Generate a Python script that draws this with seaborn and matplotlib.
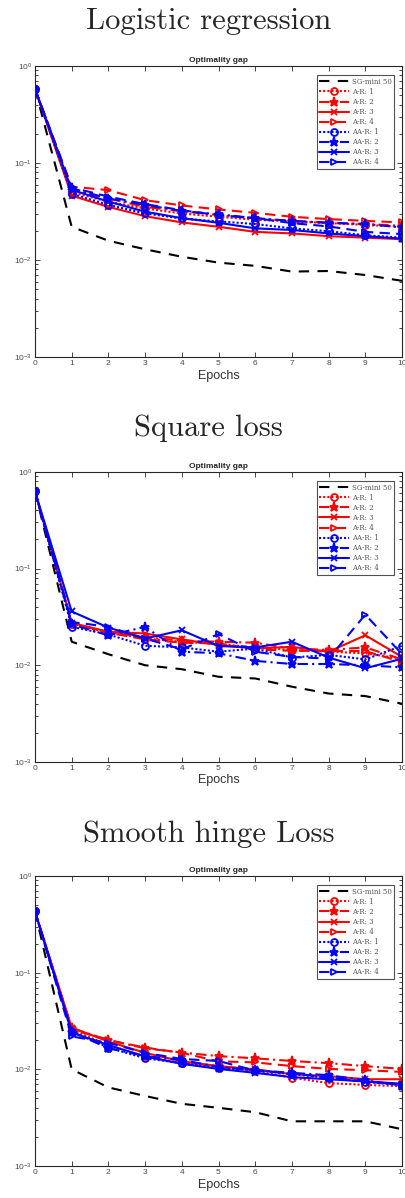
import numpy as np
import pandas as pd
import matplotlib
matplotlib.use("Agg")
import matplotlib.pyplot as plt
import seaborn as sns

epochs = list(range(11))

# ---- Logistic regression ----
log_sg   = [0.58, 0.022, 0.0158, 0.0129, 0.0108, 0.0094, 0.0087, 0.0076, 0.0077, 0.0070, 0.0061]
log_ar1  = [0.58, 0.050, 0.0398, 0.034, 0.0302, 0.0279, 0.026, 0.025, 0.024, 0.023, 0.022]
log_ar2  = [0.58, 0.053, 0.043, 0.0353, 0.0319, 0.029, 0.0268, 0.0253, 0.0242, 0.0235, 0.0225]
log_ar3  = [0.58, 0.046, 0.0353, 0.0283, 0.0244, 0.022, 0.0195, 0.0188, 0.0176, 0.017, 0.0164]
log_ar4  = [0.58, 0.057, 0.0525, 0.0414, 0.0365, 0.0332, 0.0306, 0.0279, 0.0264, 0.0253, 0.0244]
log_aar1 = [0.58, 0.048, 0.037, 0.0302, 0.0268, 0.025, 0.0235, 0.0212, 0.0198, 0.018, 0.017]
log_aar2 = [0.58, 0.055, 0.043, 0.037, 0.032, 0.0296, 0.027, 0.0253, 0.0242, 0.0235, 0.0217]
log_aar3 = [0.58, 0.053, 0.040, 0.0315, 0.027, 0.0242, 0.0212, 0.0204, 0.0188, 0.0176, 0.0166]
log_aar4 = [0.58, 0.056, 0.045, 0.0377, 0.0326, 0.029, 0.027, 0.024, 0.0222, 0.0195, 0.0185]

# ---- Square loss ----
sq_sg   = [0.63, 0.0175, 0.013, 0.010, 0.0091, 0.0076, 0.0073, 0.0060, 0.0051, 0.0048, 0.0040]
sq_ar1  = [0.63, 0.027, 0.0217, 0.0189, 0.0175, 0.0166, 0.0153, 0.0144, 0.0138, 0.0133, 0.0117]
sq_ar2  = [0.63, 0.027, 0.022, 0.0195, 0.018, 0.0175, 0.0171, 0.0149, 0.0144, 0.0153, 0.0115]
sq_ar3  = [0.63, 0.0274, 0.0222, 0.0213, 0.0185, 0.0162, 0.0149, 0.0155, 0.0138, 0.0204, 0.0122]
sq_ar4  = [0.63, 0.0274, 0.0217, 0.0185, 0.0171, 0.0168, 0.0146, 0.0141, 0.0141, 0.014, 0.0108]
sq_aar1 = [0.63, 0.025, 0.0208, 0.0159, 0.0153, 0.0138, 0.0149, 0.012, 0.0128, 0.0115, 0.0159]
sq_aar2 = [0.63, 0.0264, 0.0204, 0.0249, 0.0138, 0.0133, 0.0111, 0.0103, 0.0103, 0.010, 0.0095]
sq_aar3 = [0.63, 0.036, 0.0245, 0.0189, 0.023, 0.0158, 0.0153, 0.0175, 0.012, 0.0093, 0.0117]
sq_aar4 = [0.63, 0.028, 0.025, 0.0189, 0.0146, 0.021, 0.0138, 0.0122, 0.0117, 0.0334, 0.013]

# ---- Smooth hinge loss ----
sh_sg   = [0.43, 0.010, 0.0065, 0.0053, 0.0044, 0.0040, 0.0036, 0.0029, 0.0029, 0.0029, 0.0024]
sh_ar1  = [0.43, 0.0256, 0.0178, 0.0136, 0.0116, 0.0108, 0.0096, 0.0082, 0.0072, 0.0069, 0.0067]
sh_ar2  = [0.43, 0.0266, 0.0201, 0.0165, 0.0149, 0.0137, 0.013, 0.0122, 0.0116, 0.0108, 0.0101]
sh_ar3  = [0.43, 0.027, 0.0194, 0.0148, 0.0121, 0.0108, 0.010, 0.0089, 0.0085, 0.0079, 0.0079]
sh_ar4  = [0.43, 0.026, 0.020, 0.0168, 0.0148, 0.0121, 0.0118, 0.0108, 0.0101, 0.0098, 0.0094]
sh_aar1 = [0.43, 0.0245, 0.0168, 0.013, 0.0116, 0.0103, 0.0098, 0.0089, 0.0082, 0.0074, 0.0069]
sh_aar2 = [0.43, 0.0245, 0.0165, 0.0137, 0.0125, 0.0106, 0.0098, 0.0092, 0.0087, 0.0077, 0.0068]
sh_aar3 = [0.43, 0.024, 0.0178, 0.0136, 0.0114, 0.0101, 0.0092, 0.0083, 0.0079, 0.0075, 0.0071]
sh_aar4 = [0.43, 0.0219, 0.0188, 0.0148, 0.0128, 0.0122, 0.0097, 0.0091, 0.0082, 0.0075, 0.0069]

panel_titles = ["Logistic regression", "Square loss", "Smooth hinge Loss"]
series_labels = ["SG-mini 50", "A-R: 1", "A-R: 2", "A-R: 3", "A-R: 4",
                 "AA-R: 1", "AA-R: 2", "AA-R: 3", "AA-R: 4"]
panels = [
    [log_sg, log_ar1, log_ar2, log_ar3, log_ar4, log_aar1, log_aar2, log_aar3, log_aar4],
    [sq_sg, sq_ar1, sq_ar2, sq_ar3, sq_ar4, sq_aar1, sq_aar2, sq_aar3, sq_aar4],
    [sh_sg, sh_ar1, sh_ar2, sh_ar3, sh_ar4, sh_aar1, sh_aar2, sh_aar3, sh_aar4],
]

styles = [
    dict(color="black", ls=(0, (5, 4)), marker=None, mfc=None),
    dict(color="#ff0000", ls=(0, (1, 1)), marker="o", mfc="none"),
    dict(color="#ff0000", ls=(0, (5, 2, 1, 2)), marker="*", mfc="#ff0000"),
    dict(color="#ff0000", ls="-", marker="x", mfc="#ff0000"),
    dict(color="#ff0000", ls=(0, (5, 3)), marker=">", mfc="none"),
    dict(color="#0000ff", ls=(0, (1, 1)), marker="o", mfc="none"),
    dict(color="#0000ff", ls=(0, (5, 2, 1, 2)), marker="*", mfc="#0000ff"),
    dict(color="#0000ff", ls="-", marker="x", mfc="#0000ff"),
    dict(color="#0000ff", ls=(0, (5, 3)), marker=">", mfc="none"),
]

sns.set_theme(style="ticks")
plt.rcParams["font.family"] = ["Liberation Sans", "DejaVu Sans"]

fig = plt.figure(figsize=(4.06, 11.98), dpi=100)

axes_rects = [
    (0.0862, 0.702, 0.904, 0.2429),
    (0.0862, 0.364, 0.904, 0.2421),
    (0.0862, 0.0267, 0.904, 0.2421),
]
title_y = [0.982, 0.6425, 0.3035]

for p, (rect, data) in enumerate(zip(axes_rects, panels)):
    ax = fig.add_axes(rect)
    for lab, vals, st in zip(series_labels, data, styles):
        df = pd.DataFrame({"Epochs": epochs, "gap": vals})
        kw = dict(linewidth=1.5)
        if st["marker"]:
            kw.update(marker=st["marker"], markersize=5 if st["marker"] != "*" else 6.5,
                      markerfacecolor=st["mfc"], markeredgecolor=st["color"],
                      markeredgewidth=1.3)
        sns.lineplot(data=df, x="Epochs", y="gap", ax=ax, color=st["color"],
                     linestyle=st["ls"], label=lab, **kw)
    ax.set_yscale("log")
    ax.set_ylim(1e-3, 1e0)
    ax.set_xlim(0, 10)
    ax.set_xticks(epochs)
    ax.set_yticks([1e-3, 1e-2, 1e-1, 1e0])
    ax.tick_params(axis="both", which="both", direction="in", top=True, right=True,
                   labelsize=6, labelcolor="#4d4d4d", color="#262626", width=0.6)
    ax.tick_params(axis="both", which="major", length=3.5, pad=2)
    ax.tick_params(axis="y", which="minor", length=2)
    for s in ax.spines.values():
        s.set_color("#262626")
        s.set_linewidth(0.8)
    ax.set_xlabel("Epochs", fontsize=9, color="#333333", labelpad=2)
    ax.set_ylabel("")
    ax.set_title("Optimality gap", fontsize=6, fontweight="bold", pad=3)
    leg = ax.legend(loc="upper right", bbox_to_anchor=(0.985, 0.975),
                    prop={"family": "DejaVu Serif", "size": 5},
                    frameon=True, fancybox=False, edgecolor="#262626",
                    handlelength=4.2, handletextpad=0.5, borderpad=0.35,
                    labelspacing=0.3, borderaxespad=0.3)
    leg.get_frame().set_linewidth(0.8)
    for t in leg.get_texts():
        t.set_color("#555555")
    fig.text(0.514, title_y[p], panel_titles[p], ha="center", va="center",
             fontsize=22, family="cmr10")

fig.savefig("out.png", dpi=100)
